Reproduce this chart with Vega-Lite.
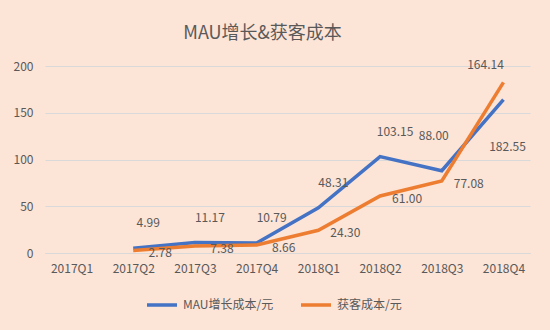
{
  "$schema": "https://vega.github.io/schema/vega-lite/v6.json",
  "width": 485,
  "height": 187,
  "autosize": {"type": "none"},
  "padding": {"left": 45, "right": 20, "top": 66, "bottom": 77},
  "background": "#fce4d7",
  "title": {"text": "MAU增长&获客成本", "fontSize": 18, "font": "Noto Sans CJK SC", "fontWeight": "normal", "color": "#595959", "offset": 16, "frame": "group", "dx": -25},
  "config": {
    "view": {"stroke": null},
    "font": "Noto Sans CJK SC"
  },
  "data": {"values": [
    {"q": "2017Q2", "s": "MAU增长成本/元", "v": 4.99},
    {"q": "2017Q3", "s": "MAU增长成本/元", "v": 11.17},
    {"q": "2017Q4", "s": "MAU增长成本/元", "v": 10.79},
    {"q": "2018Q1", "s": "MAU增长成本/元", "v": 48.31},
    {"q": "2018Q2", "s": "MAU增长成本/元", "v": 103.15},
    {"q": "2018Q3", "s": "MAU增长成本/元", "v": 88.00},
    {"q": "2018Q4", "s": "MAU增长成本/元", "v": 164.14},
    {"q": "2017Q2", "s": "获客成本/元", "v": 2.78},
    {"q": "2017Q3", "s": "获客成本/元", "v": 7.38},
    {"q": "2017Q4", "s": "获客成本/元", "v": 8.66},
    {"q": "2018Q1", "s": "获客成本/元", "v": 24.30},
    {"q": "2018Q2", "s": "获客成本/元", "v": 61.00},
    {"q": "2018Q3", "s": "获客成本/元", "v": 77.08},
    {"q": "2018Q4", "s": "获客成本/元", "v": 182.55}
  ]},
  "encoding": {
    "x": {"field": "q", "type": "ordinal", "sort": null,
      "scale": {"type": "point", "padding": 0.43, "domain": ["2017Q1","2017Q2","2017Q3","2017Q4","2018Q1","2018Q2","2018Q3","2018Q4"]},
      "axis": {"title": null, "labelAngle": 0, "labelFontSize": 12, "labelColor": "#595959", "domainColor": "#d9d9d9", "ticks": false, "labelPadding": 10, "grid": false}},
    "y": {"field": "v", "type": "quantitative",
      "scale": {"domain": [0, 200]},
      "axis": {"title": null, "values": [0, 50, 100, 150, 200], "labelFontSize": 12, "labelColor": "#595959", "domain": false, "ticks": false, "gridColor": "#d9d9d9", "labelPadding": 12}}
  },
  "layer": [
    {
      "mark": {"type": "line", "strokeWidth": 3.5},
      "encoding": {
        "color": {"field": "s", "type": "nominal", "sort": null,
          "scale": {"domain": ["MAU增长成本/元", "获客成本/元"], "range": ["#4472c4", "#ed7d31"]},
          "legend": {"title": null, "orient": "none", "legendX": 100, "legendY": 222, "direction": "horizontal", "symbolType": "stroke", "symbolStrokeWidth": 3.5, "symbolSize": 900, "labelFontSize": 12, "labelColor": "#595959", "columnPadding": 20, "labelOffset": 4}}
      }
    },
    {
      "transform": [{"filter": "datum.s == 'MAU增长成本/元' && datum.q != '2018Q4' && datum.q != '2018Q3'"}],
      "mark": {"type": "text", "dx": 15, "dy": -25, "fontSize": 12, "color": "#595959"},
      "encoding": {"text": {"field": "v", "type": "quantitative", "format": ".2f"}}
    },
    {
      "transform": [{"filter": "datum.s == 'MAU增长成本/元' && datum.q == '2018Q3'"}],
      "mark": {"type": "text", "dx": -8, "dy": -35, "fontSize": 12, "color": "#595959"},
      "encoding": {"text": {"field": "v", "type": "quantitative", "format": ".2f"}}
    },
    {
      "transform": [{"filter": "datum.s == '获客成本/元' && datum.q != '2018Q4'"}],
      "mark": {"type": "text", "dx": 27, "dy": 3, "fontSize": 12, "color": "#595959"},
      "encoding": {"text": {"field": "v", "type": "quantitative", "format": ".2f"}}
    },
    {
      "transform": [{"filter": "datum.s == 'MAU增长成本/元' && datum.q == '2018Q4'"}],
      "mark": {"type": "text", "dx": -18, "dy": -35, "fontSize": 12, "color": "#595959"},
      "encoding": {"text": {"field": "v", "type": "quantitative", "format": ".2f"}}
    },
    {
      "transform": [{"filter": "datum.s == '获客成本/元' && datum.q == '2018Q4'"}],
      "mark": {"type": "text", "dx": 4, "dy": 65, "fontSize": 12, "color": "#595959"},
      "encoding": {"text": {"field": "v", "type": "quantitative", "format": ".2f"}}
    }
  ]
}
